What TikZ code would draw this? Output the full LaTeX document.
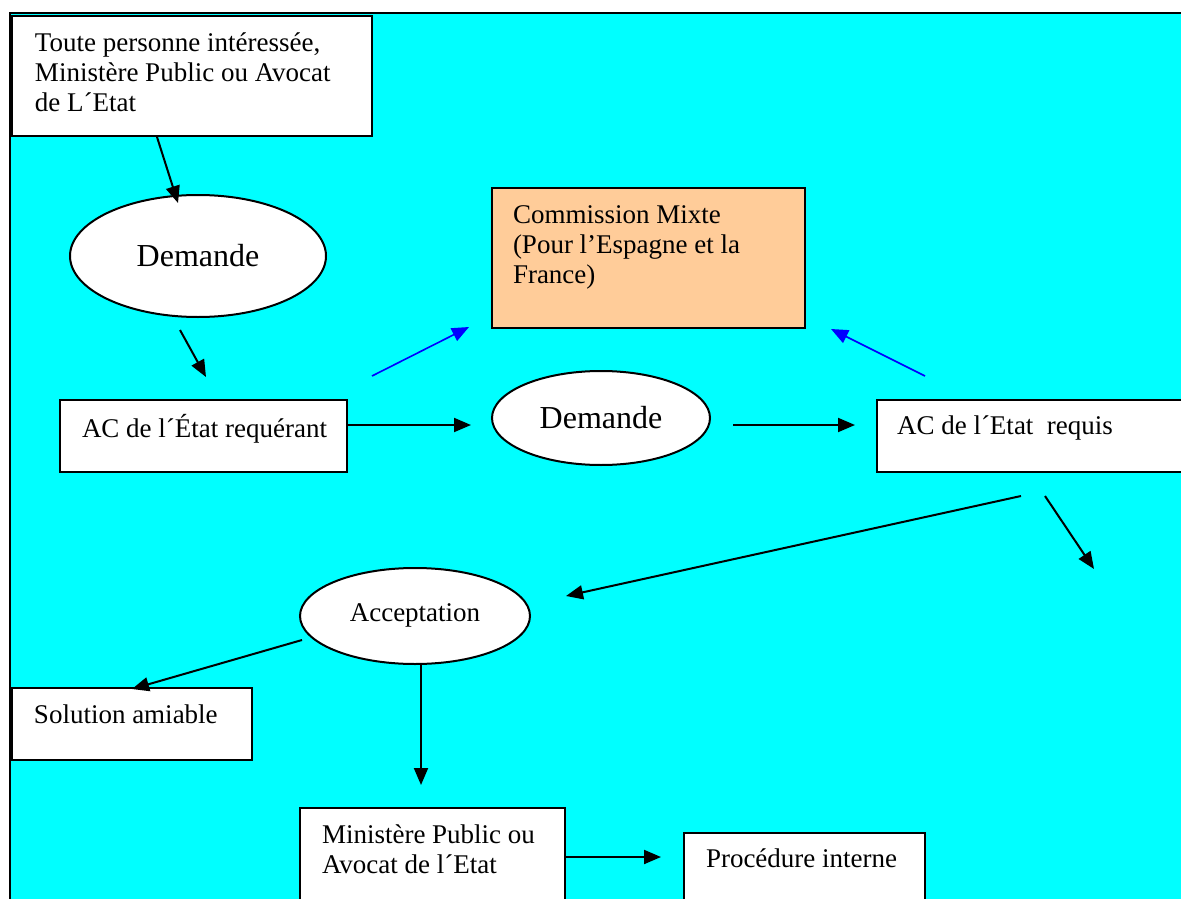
\documentclass[tikz,border=0pt]{standalone}
\usepackage{fontspec}
\setmainfont{Liberation Serif}
\usetikzlibrary{arrows.meta,shapes.geometric}
\definecolor{bg}{RGB}{0,255,255}
\definecolor{orangebox}{RGB}{255,204,153}
\definecolor{arrowblue}{RGB}{0,0,255}
% width, height, left pad, first baseline offset, text
\newcommand{\boxtxt}[5]{\parbox[t][#2][t]{#1}{\raggedright\leftskip=#3\relax\rightskip=-80pt plus 1fil\relax\vspace*{\dimexpr#4-26pt\relax}\rule{0pt}{26pt}#5}}
\begin{document}
\begin{tikzpicture}[x=1pt,y=-1pt,
  every node/.style={font=\fontsize{27}{30}\selectfont},
  box/.style={draw=black, line width=2.5pt, fill=white, anchor=north west, inner sep=0pt, outer sep=0pt},
  oval/.style={ellipse, draw=black, line width=2pt, fill=white, inner sep=0pt},
  big/.style={font=\fontsize{32}{36}\selectfont},
  arr/.style={line width=2pt, -{Triangle[length=17pt,width=14pt]}},
  bluearr/.style={line width=1.6pt, draw=arrowblue, -{Triangle[length=17pt,width=14pt]}}]
\useasboundingbox (0,0) rectangle (1181,899);
\clip (0,0) rectangle (1181,899);
\fill[white] (0,0) rectangle (1181,899);
\fill[bg] (10,13) rectangle (1200,920);
\draw[line width=2.5pt] (10,920) -- (10,13) -- (1200,13);

% nodes
\node[box] (src) at (12,16) {\boxtxt{360pt}{120pt}{23pt}{36pt}{Toute personne intéressée,\\Ministère Public ou Avocat\\de L´Etat}};
\node[oval, big, minimum width=256pt, minimum height=122pt] (dem1) at (198,256) {Demande};
\node[box, fill=orangebox] (cm) at (492,188) {\boxtxt{313pt}{140pt}{21pt}{35pt}{Commission Mixte\\(Pour l’Espagne et la\\France)}};
\node[box] (req) at (60,400) {\boxtxt{287pt}{72pt}{22pt}{37pt}{AC de l´État requérant}};
\node[oval, big, minimum width=218pt, minimum height=94pt] (dem2) at (601,418) {Demande};
\node[box] (rqs) at (877,400) {\boxtxt{330pt}{72pt}{20pt}{34pt}{AC de l´Etat~ requis}};
\node[oval, minimum width=230pt, minimum height=96pt] (acc) at (415,616) {\raisebox{6pt}{Acceptation}};
\node[box] (sol) at (12,688) {\boxtxt{240pt}{72pt}{22pt}{35pt}{Solution amiable}};
\node[box] (min) at (300,808) {\boxtxt{265pt}{120pt}{22pt}{35pt}{Ministère Public ou\\Avocat de l´Etat}};
\node[box] (proc) at (684,833) {\boxtxt{241pt}{100pt}{22pt}{34pt}{Procédure interne}};

% connector end points
\coordinate (a1s) at (157,137); \coordinate (a1e) at (178,203);
\coordinate (a2s) at (180,330); \coordinate (a2e) at (206,377);
\coordinate (a3s) at (347,425); \coordinate (a3e) at (471,425);
\coordinate (a4s) at (733,425); \coordinate (a4e) at (855,425);
\coordinate (b1s) at (372,376); \coordinate (b1e) at (469,327);
\coordinate (b2s) at (925,376); \coordinate (b2e) at (831,329);
\coordinate (a5s) at (1021,496); \coordinate (a5e) at (566,596);
\coordinate (a6s) at (1045,496); \coordinate (a6e) at (1094,569);
\coordinate (a7s) at (302,640); \coordinate (a7e) at (132,689);
\coordinate (a8s) at (421,664); \coordinate (a8e) at (421,785);
\coordinate (a9s) at (565,857); \coordinate (a9e) at (661,857);

% connectors
\draw[arr] (a1s) -- (a1e);
\draw[arr] (a2s) -- (a2e);
\draw[arr] (a3s) -- (a3e);
\draw[arr] (a4s) -- (a4e);
\draw[bluearr] (b1s) -- (b1e);
\draw[bluearr] (b2s) -- (b2e);
\draw[arr] (a5s) -- (a5e);
\draw[arr] (a6s) -- (a6e);
\draw[arr] (a7s) -- (a7e);
\draw[arr] (a8s) -- (a8e);
\draw[arr] (a9s) -- (a9e);
\end{tikzpicture}
\end{document}
